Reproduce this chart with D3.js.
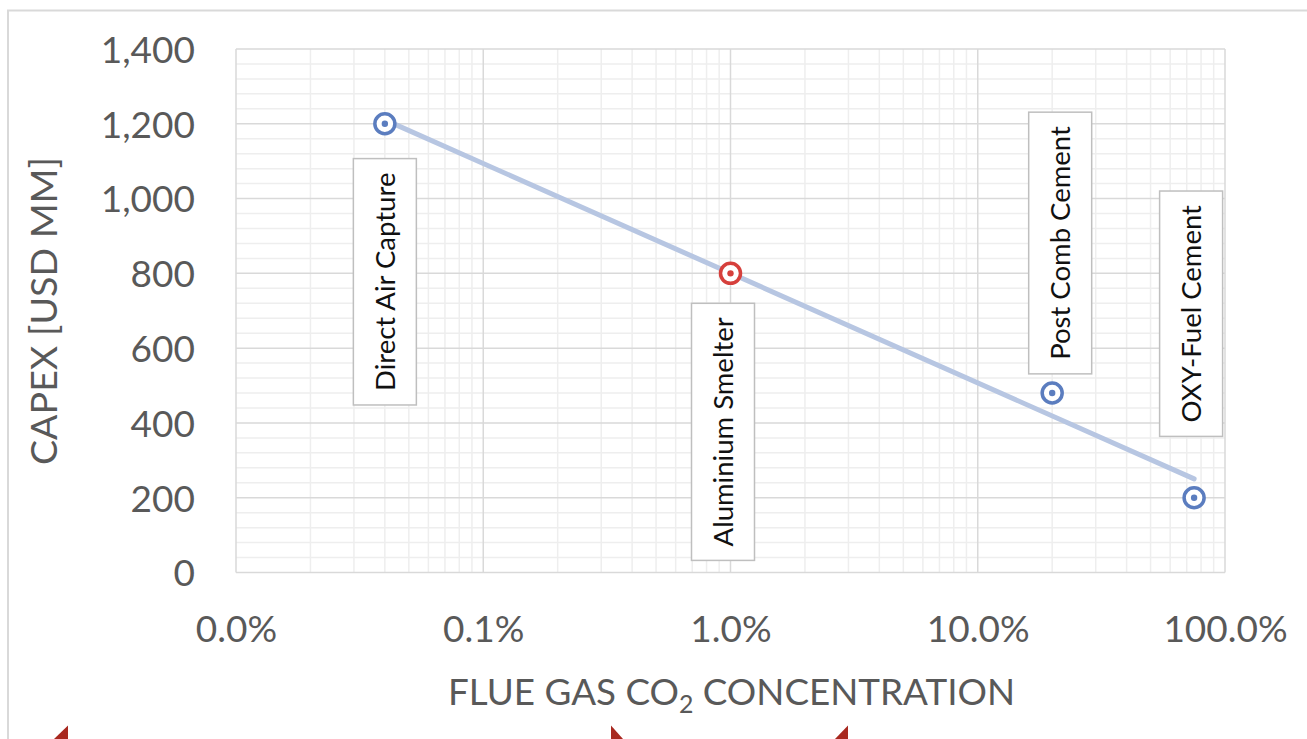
<!DOCTYPE html>
<html>
<head>
<meta charset="utf-8">
<script src="https://cdn.jsdelivr.net/npm/d3@7"></script>
<style>
  html, body { margin: 0; padding: 0; background: #fff; }
  svg { display: block; }
  text { font-family: Lato, "Open Sans", "Liberation Sans", sans-serif; }
</style>
</head>
<body>
<svg id="chart" width="1307" height="739"></svg>
<script>
// ---- Data ----
const categories = ["Direct Air Capture", "Aluminium Smelter", "Post Comb Cement", "OXY-Fuel Cement"];
const co2Concentration = [0.0004, 0.01, 0.20, 0.75];   // fraction (0.04%, 1%, 20%, 75%)
const capexUsdMM = [1200, 800, 480, 200];
const pointColors = ["#5b7dbf", "#d6403c", "#5b7dbf", "#5b7dbf"];
const xTickValues = [0.0001, 0.001, 0.01, 0.1, 1];
const xTickLabels = ["0.0%", "0.1%", "1.0%", "10.0%", "100.0%"];
const yTickValues = [0, 200, 400, 600, 800, 1000, 1200, 1400];
const yTickLabels = ["0", "200", "400", "600", "800", "1,000", "1,200", "1,400"];
const xTitle = "FLUE GAS CO";
const yTitle = "CAPEX [USD MM]";

// ---- Layout (styles/positions) ----
const plot = { left: 236, right: 1225, top: 49, bottom: 572.5 };
// label box offsets (center relative to point), per category
const labelLayout = [
  { dx: 0, dy: 158 },
  { dx: -7.5, dy: 158.5 },
  { dx: 8, dy: -150 },
  { dx: -3, dy: -184 }
];

const svg = d3.select("#chart");

const x = d3.scaleLog().domain([0.0001, 1]).range([plot.left, plot.right]);
const y = d3.scaleLinear().domain([0, 1400]).range([plot.bottom, plot.top]);

// outer frame
svg.append("path")
  .attr("d", `M1307,10.5 H8 V739`)
  .attr("fill", "none").attr("stroke", "#d9d9d9").attr("stroke-width", 2);

// red triangles at bottom (slide decorations)
const tri = [
  [[54, 739], [68, 725.5], [68, 739]],
  [[611, 725.5], [623, 739], [611, 739]],
  [[835, 739], [848, 725.5], [848, 739]]
];
svg.selectAll("polygon.tri").data(tri).enter().append("polygon")
  .attr("points", d => d.map(p => p.join(",")).join(" "))
  .attr("fill", "#a8281f");

const grid = svg.append("g");
// minor vertical
const allX = x.ticks();
const minorX = allX.filter(v => !xTickValues.some(t => Math.abs(t - v) / t < 1e-6));
grid.selectAll("line.mvx").data(minorX).enter().append("line")
  .attr("x1", d => x(d)).attr("x2", d => x(d))
  .attr("y1", plot.top).attr("y2", plot.bottom)
  .attr("stroke", "#eeeeee").attr("stroke-width", 1.5);
// minor horizontal
const minorY = d3.range(0, 1401, 40).filter(v => v % 200 !== 0);
grid.selectAll("line.mhy").data(minorY).enter().append("line")
  .attr("x1", plot.left).attr("x2", plot.right)
  .attr("y1", d => y(d)).attr("y2", d => y(d))
  .attr("stroke", "#eeeeee").attr("stroke-width", 1.5);
// major vertical
grid.selectAll("line.Mvx").data(xTickValues).enter().append("line")
  .attr("x1", d => x(d)).attr("x2", d => x(d))
  .attr("y1", plot.top).attr("y2", plot.bottom)
  .attr("stroke", "#d9d9d9").attr("stroke-width", 1.5);
// major horizontal
grid.selectAll("line.Mhy").data(yTickValues).enter().append("line")
  .attr("x1", plot.left).attr("x2", plot.right)
  .attr("y1", d => y(d)).attr("y2", d => y(d))
  .attr("stroke", "#d9d9d9").attr("stroke-width", 1.5);

// Axes tick labels (via d3 axes, domain/ticks hidden)
const xAxis = d3.axisBottom(x).tickValues(xTickValues)
  .tickFormat((d, i) => xTickLabels[i]).tickSize(0).tickPadding(0);
const gx = svg.append("g").attr("transform", `translate(0,${plot.bottom})`).call(xAxis);
gx.select(".domain").remove();
gx.selectAll("text")
  .attr("dy", null).attr("y", 69.5)
  .attr("fill", "#595959").style("font-size", "37px")
  .style("font-family", "Lato, 'Open Sans', sans-serif");

const yAxis = d3.axisLeft(y).tickValues(yTickValues)
  .tickFormat((d, i) => yTickLabels[i]).tickSize(0).tickPadding(0);
const gy = svg.append("g").attr("transform", `translate(195,0)`).call(yAxis);
gy.select(".domain").remove();
gy.selectAll("text")
  .attr("x", 0).attr("dy", "0.36em")
  .attr("fill", "#595959").style("font-size", "37px")
  .style("font-family", "Lato, 'Open Sans', sans-serif");

// Axis titles
const xt = svg.append("text")
  .attr("x", 448).attr("y", 705)
  .attr("fill", "#595959").style("font-size", "37px")
  .attr("textLength", 567).attr("lengthAdjust", "spacingAndGlyphs");
xt.append("tspan").text(xTitle);
xt.append("tspan").text("2").attr("dy", 8).style("font-size", "25px");
xt.append("tspan").text(" CONCENTRATION").attr("dy", -8);

svg.append("text")
  .attr("transform", `translate(57,465) rotate(-90)`)
  .attr("fill", "#595959").style("font-size", "37px")
  .attr("textLength", 308).attr("lengthAdjust", "spacingAndGlyphs")
  .text(yTitle);

// Trendline: least squares of capex vs log10(concentration)
const lx = co2Concentration.map(v => Math.log10(v));
const mx = d3.mean(lx), my = d3.mean(capexUsdMM);
const sxy = d3.sum(lx.map((v, i) => (v - mx) * (capexUsdMM[i] - my)));
const sxx = d3.sum(lx.map(v => (v - mx) * (v - mx)));
const slope = sxy / sxx, intercept = my - slope * mx;
const xMin = d3.min(co2Concentration), xMax = d3.max(co2Concentration);
const trend = [xMin, xMax].map(v => [v, intercept + slope * Math.log10(v)]);
svg.append("path")
  .attr("d", d3.line().x(d => x(d[0])).y(d => y(d[1]))(trend))
  .attr("stroke", "#b7c6e2").attr("stroke-width", 5).attr("fill", "none")
  .attr("stroke-linecap", "round");

// Points
const pts = categories.map((c, i) => ({ c, xv: co2Concentration[i], yv: capexUsdMM[i], col: pointColors[i], lay: labelLayout[i] }));
const pg = svg.selectAll("g.pt").data(pts).enter().append("g")
  .attr("transform", d => `translate(${x(d.xv)},${y(d.yv)})`);
pg.append("circle").attr("r", 10).attr("fill", "#fff")
  .attr("stroke", d => d.col).attr("stroke-width", 3.5);
pg.append("circle").attr("r", 3.2).attr("fill", d => d.col);

// Data labels
const lg = svg.selectAll("g.lbl").data(pts).enter().append("g")
  .attr("transform", d => `translate(${x(d.xv) + d.lay.dx},${y(d.yv) + d.lay.dy})`);
const rects = lg.append("rect").attr("fill", "#fff").attr("stroke", "#bfbfbf").attr("stroke-width", 1.5);
const txts = lg.append("text")
  .attr("transform", "rotate(-90)")
  .attr("text-anchor", "middle").attr("dy", "0.36em")
  .attr("fill", "#111").style("font-size", "27.5px")
  .text(d => d.c);
txts.each(function (d, i) {
  const L = this.getComputedTextLength();
  const h = L + 28, w = 63;
  d3.select(rects.nodes()[i]).attr("x", -w / 2).attr("y", -h / 2).attr("width", w).attr("height", h);
});
</script>
</body>
</html>
